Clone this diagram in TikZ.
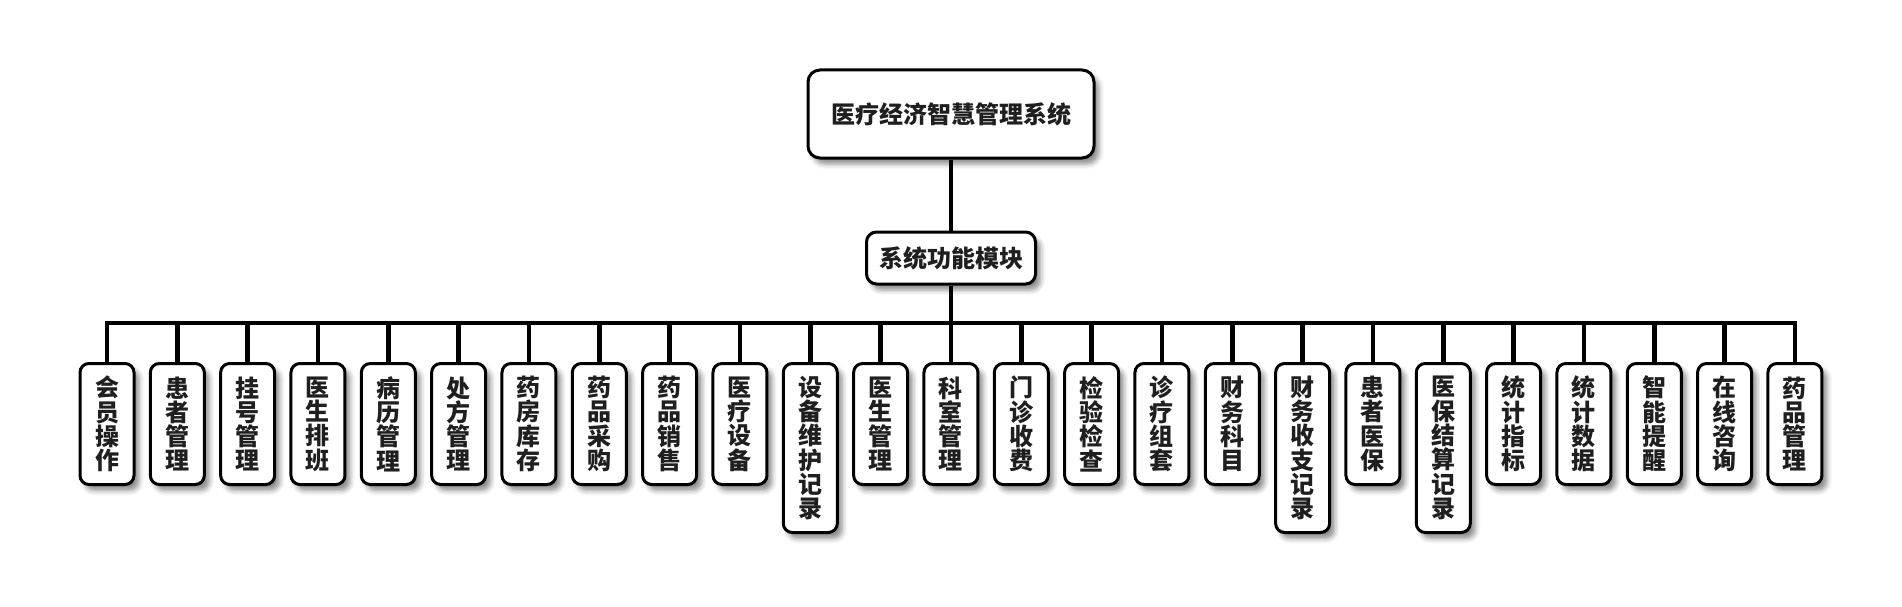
\documentclass[tikz,border=0pt]{standalone}
\usepackage{fontspec}
\newfontfamily\cjk{Noto Sans CJK SC}
\usetikzlibrary{shadows.blur}
\tikzset{
  boxbase/.style={draw=black, line width=3pt, fill=white, font=\cjk\bfseries\fontsize{24}{24.3}\selectfont, text=black!88, inner sep=0pt, align=center,
    blur shadow={shadow xshift=5pt, shadow yshift=-6pt, shadow blur radius=5pt, shadow opacity=45}},
  titlebox/.style={boxbase, rounded corners=12pt, minimum width=286pt, minimum height=88pt},
  midbox/.style={boxbase, rounded corners=10pt, minimum width=169pt, minimum height=52pt},
  leafbox/.style={boxbase, rounded corners=9pt, minimum width=54pt, minimum height=121pt, anchor=north},
  tallbox/.style={leafbox, minimum height=169pt},
  conn/.style={draw=black, line width=4.5pt}
}
\begin{document}
\begin{tikzpicture}[x=1pt,y=-1pt]
\useasboundingbox (0,0) rectangle (1902,607);
\node[titlebox] (top) at (951,114) {医疗经济智慧管理系统};
\node[midbox] (mid) at (951,258) {系统功能模块};
\coordinate (bus) at (951,323);
\def\dx{70.33}
\node[leafbox] (l1) at (107+0*\dx,362) {会\\员\\操\\作};
\node[leafbox] (l2) at (107+1*\dx,362) {患\\者\\管\\理};
\node[leafbox] (l3) at (107+2*\dx,362) {挂\\号\\管\\理};
\node[leafbox] (l4) at (107+3*\dx,362) {医\\生\\排\\班};
\node[leafbox] (l5) at (107+4*\dx,362) {病\\历\\管\\理};
\node[leafbox] (l6) at (107+5*\dx,362) {处\\方\\管\\理};
\node[leafbox] (l7) at (107+6*\dx,362) {药\\房\\库\\存};
\node[leafbox] (l8) at (107+7*\dx,362) {药\\品\\采\\购};
\node[leafbox] (l9) at (107+8*\dx,362) {药\\品\\销\\售};
\node[leafbox] (l10) at (107+9*\dx,362) {医\\疗\\设\\备};
\node[tallbox] (l11) at (107+10*\dx,362) {设\\备\\维\\护\\记\\录};
\node[leafbox] (l12) at (107+11*\dx,362) {医\\生\\管\\理};
\node[leafbox] (l13) at (107+12*\dx,362) {科\\室\\管\\理};
\node[leafbox] (l14) at (107+13*\dx,362) {门\\诊\\收\\费};
\node[leafbox] (l15) at (107+14*\dx,362) {检\\验\\检\\查};
\node[leafbox] (l16) at (107+15*\dx,362) {诊\\疗\\组\\套};
\node[leafbox] (l17) at (107+16*\dx,362) {财\\务\\科\\目};
\node[tallbox] (l18) at (107+17*\dx,362) {财\\务\\收\\支\\记\\录};
\node[leafbox] (l19) at (107+18*\dx,362) {患\\者\\医\\保};
\node[tallbox] (l20) at (107+19*\dx,362) {医\\保\\结\\算\\记\\录};
\node[leafbox] (l21) at (107+20*\dx,362) {统\\计\\指\\标};
\node[leafbox] (l22) at (107+21*\dx,362) {统\\计\\数\\据};
\node[leafbox] (l23) at (107+22*\dx,362) {智\\能\\提\\醒};
\node[leafbox] (l24) at (107+23*\dx,362) {在\\线\\咨\\询};
\node[leafbox] (l25) at (107+24*\dx,362) {药\\品\\管\\理};
\draw[conn] (top.south) -- (mid.north);
\draw[conn] (mid.south) -- (bus);
\draw[conn] (l1.north) |- (l25.north |- bus) -- (l25.north);
\foreach \i in {2,...,24} {
  \draw[conn] (l\i.north) -- (l\i.north |- bus);
}
\end{tikzpicture}
\end{document}
